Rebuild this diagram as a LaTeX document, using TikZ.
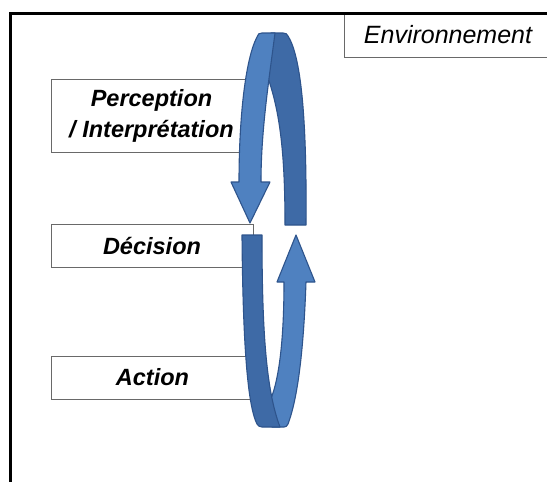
\documentclass[tikz,border=0pt]{standalone}
\usepackage{fontspec}
\setmainfont{Liberation Sans}
\definecolor{armlightc}{RGB}{79,129,192}
\definecolor{armdarkc}{RGB}{62,106,166}
\definecolor{armline}{RGB}{46,84,140}
\definecolor{boxline}{RGB}{105,105,105}
\begin{document}
\begin{tikzpicture}[x=1pt,y=-1pt,
  labelbox/.style={draw=boxline, line width=0.9pt, fill=white, inner sep=0pt,
    font=\fontsize{23.5}{31}\selectfont\bfseries\itshape, align=center},
  envbox/.style={draw=boxline, line width=0.9pt, fill=white, inner sep=0pt,
    font=\fontsize{25}{30}\selectfont\itshape},
  frontband/.style={fill=armlightc, draw=armline, line width=1.1pt, line join=round},
  backband/.style={fill=armdarkc, draw=armline, line width=1.1pt, line join=round}]
\useasboundingbox (0,0) rectangle (547,482);
\fill[white] (0,0) rectangle (547,482);
\begin{scope}
\clip (0,0) rectangle (547,482);
% environment box and outer frame
\node[envbox, minimum width=208pt, minimum height=44pt] (env) at (448,35) {Environnement};
\draw[line width=3.2pt] (10.5,520) -- (10.5,13.5) -- (580,13.5);
% label boxes
\node[labelbox, minimum width=201pt, minimum height=73pt] (perc) at (151.5,115.5) {Perception\\/ Interprétation};
\node[labelbox, minimum width=202pt, minimum height=43pt] (dec) at (152,245.5) {Décision};
\node[labelbox, minimum width=203pt, minimum height=43pt] (act) at (152.5,377.5) {Action};
% upper loop: back band then front band with arrowhead
\filldraw[backband] (271,33) -- (283,33) .. controls (286,33) and (287,34) .. (288,36)
  .. controls (300,55) and (307,110) .. (306,225)
  -- (285,225) .. controls (285,160) and (281,115) .. (268,78) -- (270,50) -- cycle;
\filldraw[frontband] (239,182) .. controls (239,120) and (245,60) .. (257,37)
  .. controls (258,34) and (259,33) .. (262,33)
  -- (275,33) .. controls (269,80) and (261,130) .. (261,182)
  -- (270,182) -- (250,223) -- (231,182) -- cycle;
% lower loop: light band with arrowhead, then dark band in front
\filldraw[frontband] (284,282) -- (277,282) -- (296,235) -- (315,282) -- (306,282)
  .. controls (304,340) and (299,395) .. (288,424)
  .. controls (287,426) and (286,427) .. (284,427) -- (272,427) -- (268,405)
  .. controls (279,385) and (284,340) .. (284,282) -- cycle;
\filldraw[backband] (242,235) -- (262,235) .. controls (262,330) and (266,390) .. (280,427)
  -- (262,427) .. controls (260,427) and (258,426) .. (257,424)
  .. controls (249,408) and (243,360) .. (242,235) -- cycle;
\end{scope}
\end{tikzpicture}
\end{document}
